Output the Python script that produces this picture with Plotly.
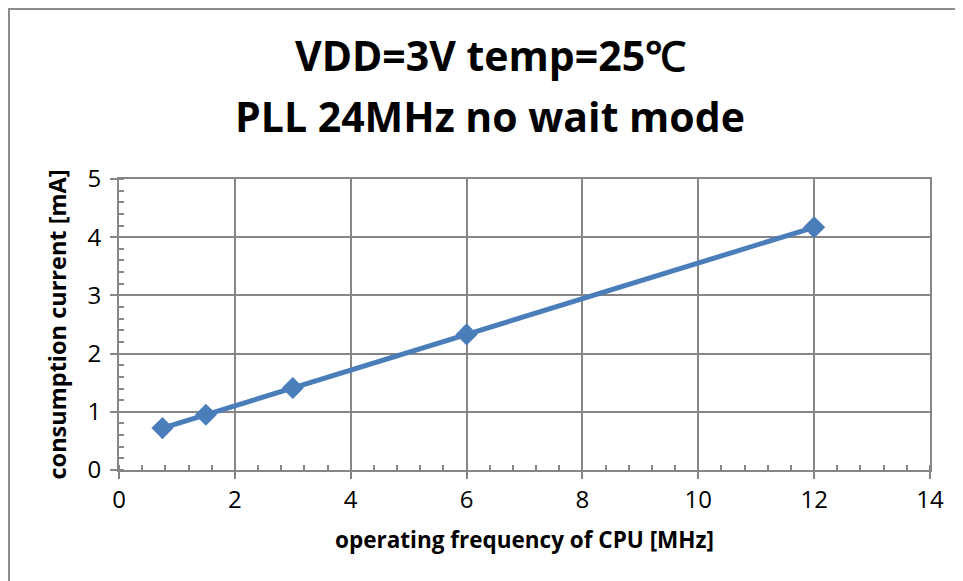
import plotly.graph_objects as go

# operating frequency of CPU [MHz] vs consumption current [mA]
freq_mhz = [0.75, 1.5, 3, 6, 12]
current_ma = [0.72, 0.95, 1.41, 2.33, 4.17]

x_ticks = [0, 2, 4, 6, 8, 10, 12, 14]
y_ticks = [0, 1, 2, 3, 4, 5]

TITLE_LINES = ['VDD=3V temp=25℃', 'PLL 24MHz no wait mode']
LINE_COLOR = '#4a7ebb'
GRID_COLOR = '#868686'
FONT = 'Open Sans'

# the page body adds a small margin, so the figure is shifted by this much
PAGE_OFFSET = 8
W, H = 963, 581
PLOT_L, PLOT_R, PLOT_T, PLOT_B = 119, 930, 179, 470   # target pixel box on screen

fig = go.Figure(go.Scatter(
    x=freq_mhz, y=current_ma,
    mode='lines+markers',
    line={'color': LINE_COLOR, 'width': 5},
    marker={'symbol': 'diamond', 'size': 17, 'color': LINE_COLOR},
    showlegend=False,
))

axis_common = dict(
    showline=True, linecolor=GRID_COLOR, linewidth=2, mirror=True,
    showgrid=True, gridcolor=GRID_COLOR, gridwidth=2,
    zeroline=False,
    ticks='outside', ticklen=7, tickwidth=2, tickcolor=GRID_COLOR,
    tickfont={'family': FONT, 'size': 24, 'color': 'black'},
)

pw = PLOT_R - PLOT_L
ph = PLOT_B - PLOT_T


def px_to_paper_x(px):
    return (px - PLOT_L) / pw


def px_to_paper_y(py):
    return (PLOT_B - py) / ph


title_y = [55, 116]
annotations = [
    dict(text=t, xref='paper', yref='paper',
         x=px_to_paper_x(490), y=px_to_paper_y(y),
         xanchor='center', yanchor='middle', showarrow=False,
         font={'family': FONT, 'size': 41, 'color': 'black', 'weight': 'bold'})
    for t, y in zip(TITLE_LINES, title_y)
]

# chart-area frame; the svg starts at the page offset, so keep it just inside
frame_px = PAGE_OFFSET + 1

fig.update_layout(
    width=W, height=H,
    margin={'l': PLOT_L - PAGE_OFFSET, 'r': W - PLOT_R + PAGE_OFFSET,
            't': PLOT_T - PAGE_OFFSET, 'b': H - PLOT_B + PAGE_OFFSET},
    paper_bgcolor='white', plot_bgcolor='white',
    font={'family': FONT, 'color': 'black'},
    annotations=annotations,
    xaxis=dict(
        axis_common,
        range=[0, 14], tickvals=x_ticks,
        minor={'dtick': 0.4, 'tick0': 0, 'ticks': 'inside', 'ticklen': 5,
               'tickwidth': 1.5, 'tickcolor': GRID_COLOR, 'showgrid': False},
        title={'text': 'operating frequency of CPU [MHz]', 'standoff': 18,
               'font': {'family': FONT, 'size': 22.5, 'weight': 'bold'}},
    ),
    yaxis=dict(
        axis_common,
        range=[0, 5], tickvals=y_ticks, ticklabelstandoff=4,
        minor={'dtick': 0.2, 'tick0': 0, 'ticks': 'inside', 'ticklen': 5,
               'tickwidth': 1.5, 'tickcolor': GRID_COLOR, 'showgrid': False},
        title={'text': 'consumption current [mA]', 'standoff': 14,
               'font': {'family': FONT, 'size': 23.5, 'weight': 'bold'}},
    ),
    shapes=[{
        'type': 'rect', 'xref': 'paper', 'yref': 'paper',
        'x0': px_to_paper_x(frame_px), 'x1': 1.2,
        'y0': -0.6, 'y1': px_to_paper_y(frame_px),
        'line': {'color': '#8c8c8c', 'width': 2},
        'layer': 'below',
    }],
)

fig.write_html('out.html')
